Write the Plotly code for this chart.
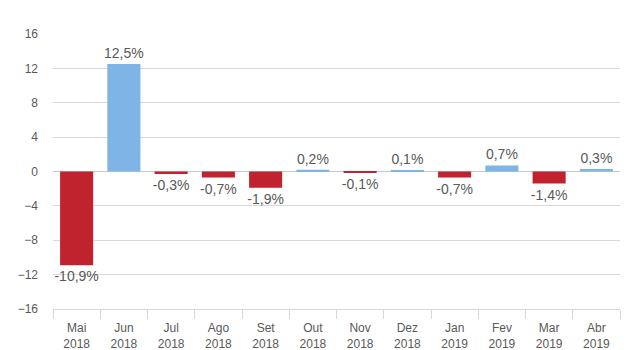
import plotly.graph_objects as go

categories = ["Mai<br>2018", "Jun<br>2018", "Jul<br>2018", "Ago<br>2018", "Set<br>2018", "Out<br>2018",
              "Nov<br>2018", "Dez<br>2018", "Jan<br>2019", "Fev<br>2019", "Mar<br>2019", "Abr<br>2019"]
values = [-10.9, 12.5, -0.3, -0.7, -1.9, 0.2, -0.1, 0.1, -0.7, 0.7, -1.4, 0.3]
y_ticks = [-16, -12, -8, -4, 0, 4, 8, 12, 16]

RED = "#C0222E"
BLUE = "#7EB4E6"
colors = [BLUE if v >= 0 else RED for v in values]
labels = [f"{v:.1f}%".replace(".", ",") for v in values]

fig = go.Figure(go.Bar(
    x=categories, y=values, marker=dict(color=colors, line=dict(width=0)),
    text=labels, textposition="outside", constraintext="none", cliponaxis=False,
    textfont=dict(family="Liberation Sans, Arial, sans-serif", size=14, color="#595959"),
))
fig.update_layout(
    width=638, height=350, margin=dict(l=53, r=18, t=34, b=41, autoexpand=False),
    paper_bgcolor="white", plot_bgcolor="white", bargap=0.3, showlegend=False,
    font=dict(family="Liberation Sans, Arial, sans-serif", size=12, color="#595959"),
)
fig.update_yaxes(range=[-16, 16], tickvals=y_ticks, showgrid=True, gridcolor="#D9D9D9", gridwidth=1,
                 zeroline=True, zerolinecolor="#C8C8C8", zerolinewidth=1, showline=False, automargin=False,
                 ticks="", ticklabelstandoff=14, tickfont=dict(size=12, color="#595959"))
fig.update_xaxes(showline=True, linecolor="#D9D9D9", linewidth=1, ticks="outside", tickson="boundaries",
                 ticklen=9, tickcolor="#D9D9D9", tickfont=dict(size=12, color="#595959"), showgrid=False,
                 automargin=False, ticklabelstandoff=8)
fig.write_html("out.html")
